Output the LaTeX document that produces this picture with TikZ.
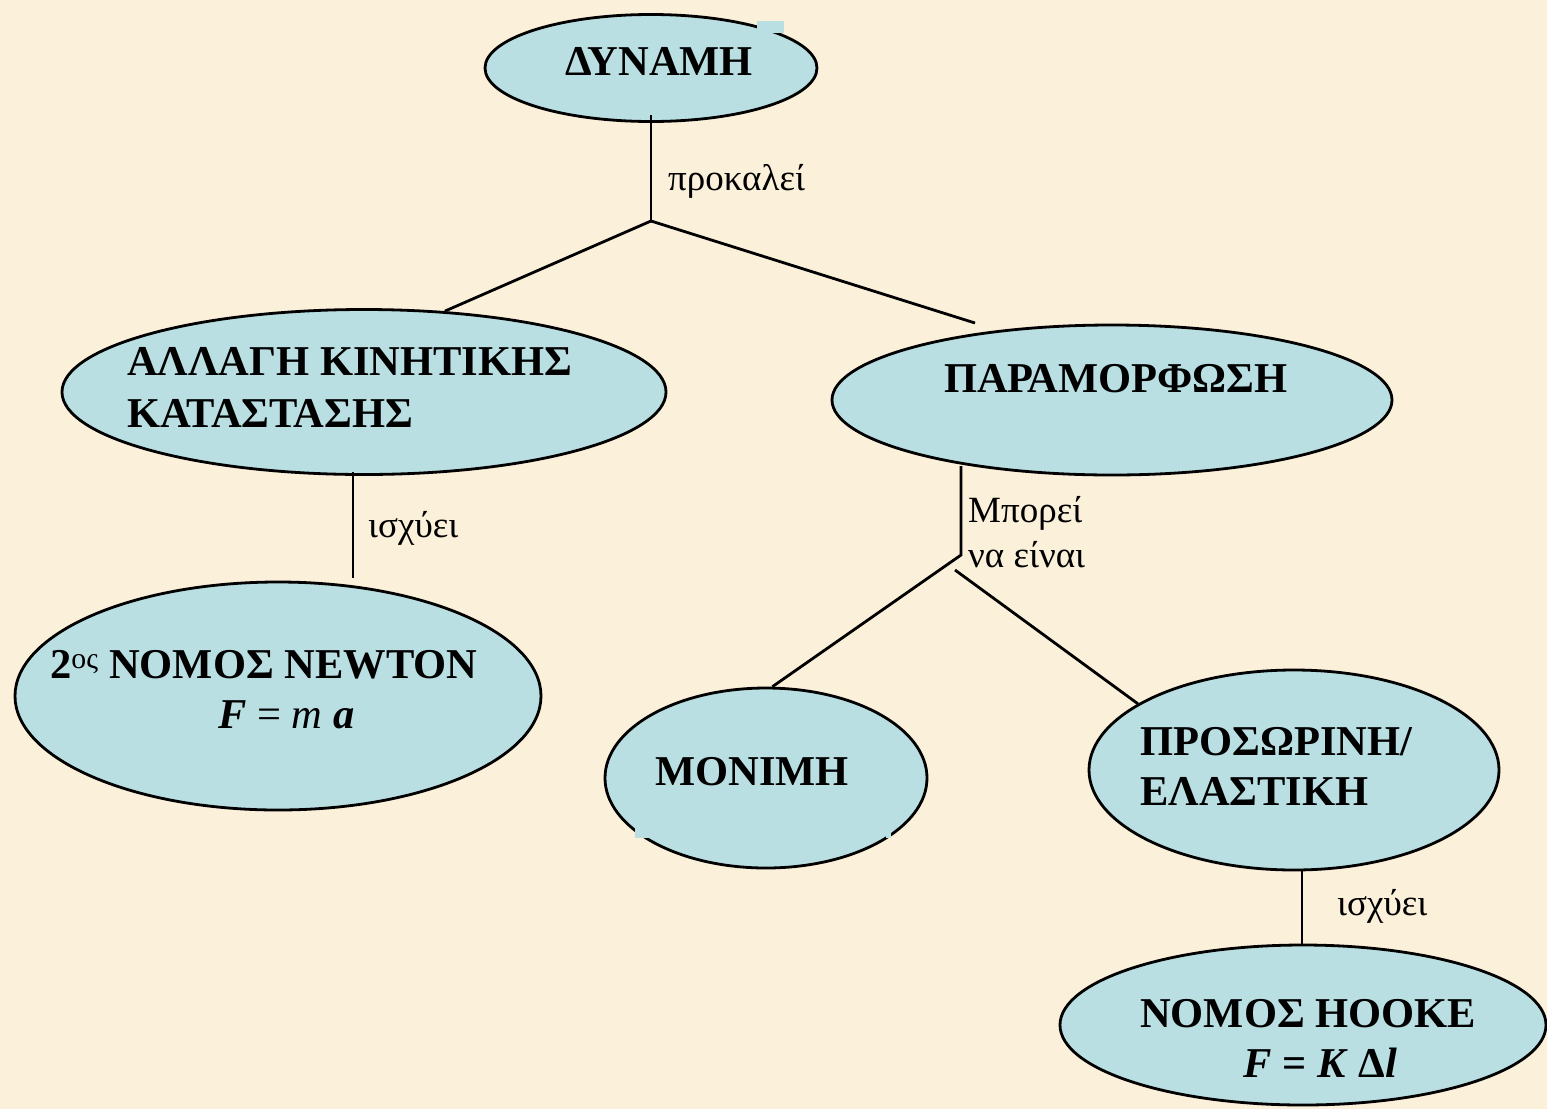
\documentclass[tikz,border=0pt]{standalone}
\usepackage{fontspec}
\setmainfont{Liberation Serif}
\usetikzlibrary{shapes.geometric}
\definecolor{bgcol}{HTML}{FBF0DA}
\definecolor{nodefill}{HTML}{B9DFE3}
\tikzset{
  oval/.style={ellipse, draw=black, line width=2.8pt, fill=nodefill, inner sep=0pt},
  conn/.style={draw=black, line width=2.8pt},
  big/.style={font=\bfseries\fontsize{42.5}{50}\selectfont, anchor=base west, inner sep=0pt, align=left},
  small/.style={font=\fontsize{37}{45}\selectfont, anchor=base west, inner sep=0pt, align=left},
}
\begin{document}
\begin{tikzpicture}[x=1pt,y=-1pt]
\fill[bgcol] (0,0) rectangle (1547,1109);
\useasboundingbox (0,0) rectangle (1547,1109);

% ellipses
\node[oval, minimum width=332, minimum height=107] (dyn) at (651,68) {};
\node[oval, minimum width=604, minimum height=165] (kin) at (364,392) {};
\node[oval, minimum width=560, minimum height=150] (par) at (1112,400) {};
\node[oval, minimum width=526, minimum height=228] (newt) at (278,696) {};
\node[oval, minimum width=322, minimum height=180] (mon) at (766,778) {};
\node[oval, minimum width=410, minimum height=200] (pros) at (1294,770) {};
\node[oval, minimum width=486, minimum height=160] (hook) at (1303,1025) {};

% fill-coloured patches over outlines
\fill[nodefill] (757,21) rectangle (784,33);
\fill[nodefill] (635,826) rectangle (650,838);
\fill[nodefill] (886,826) rectangle (891,838);

% texts
\node[big] (tdyn) at (565,75) {ΔΥΝΑΜΗ};
\node[big] (tkin1) at (127,375) {ΑΛΛΑΓΗ ΚΙΝΗΤΙΚΗΣ};
\node[big] (tkin2) at (127,427) {ΚΑΤΑΣΤΑΣΗΣ};
\node[big] (tpar) at (944,392) {ΠΑΡΑΜΟΡΦΩΣΗ};
\node[big] (tnewt1) at (50,678) {2\textsuperscript{\normalfont ος} ΝΟΜΟΣ NEWTON};
\node[big] (tnewt2) at (218,728) {\textit{F} \mdseries = \textit{m} \bfseries\textit{a}};
\node[big] (tmon) at (655,785) {ΜΟΝΙΜΗ};
\node[big] (tpros1) at (1140,755) {ΠΡΟΣΩΡΙΝΗ/};
\node[big] (tpros2) at (1140,805) {ΕΛΑΣΤΙΚΗ};
\node[big] (thook1) at (1140,1027) {ΝΟΜΟΣ HOOKE};
\node[big] (thook2) at (1243,1077) {\textit{F} = \textit{K} Δ\textit{l}};

% connector junctions
\coordinate (j1) at (651,221);
\coordinate (pend) at (975,323);
\coordinate (j2) at (961,555);
\coordinate (j3) at (955,570);
\coordinate (k1) at (353,472);
\coordinate (n1) at (353,578);
\coordinate (p1) at (961,466);
\coordinate (r1) at (1302,869);
\coordinate (h1) at (1302,946);

\draw[conn] (dyn.south |- 0,115) -- (j1);
\draw[conn] (j1) -- (kin.45);
\draw[conn] (j1) -- (pend);
\draw[conn] (k1) -- (n1);
\draw[conn] (p1) -- (j2) -- (mon.86);
\draw[conn] (j3) -- (pros.157);
\draw[conn] (r1) -- (h1);

% connector labels
\node[small] (lprok) at (668,190) {προκαλεί};
\node[small] (lisx1) at (368,537) {ισχύει};
\node[small] (lmpor) at (968,567) {Μπορεί\\να είναι};
\node[small] (lisx2) at (1337,915) {ισχύει};
\end{tikzpicture}
\end{document}
